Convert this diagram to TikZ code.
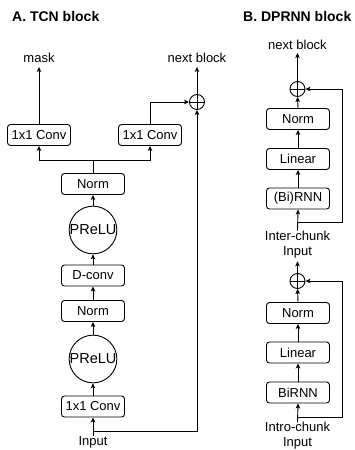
\documentclass[tikz,border=0pt]{standalone}
\usepackage{fontspec}
\setmainfont{Liberation Sans}
\usetikzlibrary{arrows.meta}
\begin{document}
\begin{tikzpicture}[x=1pt,y=-1pt,
  lbl/.style={font=\fontsize{13}{15}\selectfont, inner sep=0pt},
  ttl/.style={font=\fontsize{14}{16}\selectfont\bfseries, inner sep=0pt, anchor=west},
  blk/.style={draw, rounded corners=3pt, line width=0.9pt, minimum width=63pt, minimum height=21pt, inner sep=0pt, font=\fontsize{13}{15}\selectfont},
  act/.style={draw, circle, line width=0.9pt, minimum size=44pt, inner sep=0pt, font=\fontsize{14.5}{15}\selectfont},
  sumnode/.style={draw, circle, line width=0.9pt, minimum size=15pt, inner sep=0pt,
    path picture={\draw[line width=0.9pt] (path picture bounding box.north) -- (path picture bounding box.south)
      (path picture bounding box.west) -- (path picture bounding box.east);}},
  arr/.style={line width=0.9pt, -{Stealth[length=5pt,width=4.5pt,inset=1.2pt]}},
  ln/.style={line width=0.9pt}
]
\useasboundingbox (0,0) rectangle (355,450);

% ---------- A. TCN block ----------
\node[ttl] (titleA) at (12,16) {A. TCN block};
\node[lbl] (mask) at (39,58) {mask};
\node[lbl] (nextA) at (197,58) {next block};
\node[blk] (convL) at (39,135) {1x1 Conv};
\node[blk] (convR) at (150,135) {1x1 Conv};
\node[sumnode] (plusA) at (197,102) {};
\node[blk] (normA1) at (93,184) {Norm};
\node[act] (preluA1) at (93,230) {PReLU};
\node[blk] (dconv) at (93,275.5) {D-conv};
\node[blk] (normA2) at (93,311) {Norm};
\node[act] (preluA2) at (93,359) {PReLU};
\node[blk] (conv1) at (93,406.5) {1x1 Conv};
\node[lbl] (inputA) at (93,442) {Input};
\coordinate (bA) at (93,160);
\coordinate (jA) at (93,431);

\draw[arr] (inputA.north) -- (conv1.south);
\draw[arr] (jA) -| (plusA.south);
\draw[arr] (conv1.north) -- (preluA2.south);
\draw[arr] (preluA2.north) -- (normA2.south);
\draw[arr] (normA2.north) -- (dconv.south);
\draw[arr] (dconv.north) -- (preluA1.south);
\draw[arr] (preluA1.north) -- (normA1.south);
\draw[ln] (normA1.north) -- (bA);
\draw[arr] (bA) -| (convL.south);
\draw[arr] (bA) -| (convR.south);
\draw[arr] (convL.north) -- ([yshift=-4pt]mask.south);
\draw[arr] (convR.north) |- (plusA.west);
\draw[arr] (plusA.north) -- ([yshift=-4pt]nextA.south);

% ---------- B. DPRNN block ----------
\node[ttl] (titleB) at (243,16) {B. DPRNN block};
\node[lbl] (nextB) at (297.5,45) {next block};
\node[sumnode] (plusB1) at (297.5,89) {};
\node[blk] (normB1) at (298,119) {Norm};
\node[blk] (linB1) at (298,159) {Linear};
\node[blk] (rnnB1) at (298,198.5) {(Bi)RNN};
\node[lbl, align=center] (inter) at (297.5,244.5) {Inter-chunk\\Input};
\coordinate (jB1) at (297.5,222);
\coordinate (cB1) at (342,222);

\node[sumnode] (plusB2) at (297.5,281) {};
\node[blk] (normB2) at (298,313) {Norm};
\node[blk] (linB2) at (298,352.5) {Linear};
\node[blk] (rnnB2) at (298,392.5) {BiRNN};
\node[lbl, align=center] (intro) at (297.5,436) {Intro-chunk\\Input};
\coordinate (jB2) at (297.5,417);
\coordinate (cB2) at (342,417);

\draw[arr] (inter.north) -- (rnnB1.south);
\draw[arr] (rnnB1.north) -- (linB1.south);
\draw[arr] (linB1.north) -- (normB1.south);
\draw[arr] (normB1.north) -- (plusB1.south);
\draw[arr] (plusB1.north) -- ([yshift=-3pt]nextB.south);
\draw[arr] (jB1) -- (cB1) |- (plusB1.east);

\draw[arr] (intro.north) -- (rnnB2.south);
\draw[arr] (rnnB2.north) -- (linB2.south);
\draw[arr] (linB2.north) -- (normB2.south);
\draw[arr] (normB2.north) -- (plusB2.south);
\draw[arr] (plusB2.north) -- ([yshift=-3pt]inter.south);
\draw[arr] (jB2) -- (cB2) |- (plusB2.east);
\end{tikzpicture}
\end{document}
